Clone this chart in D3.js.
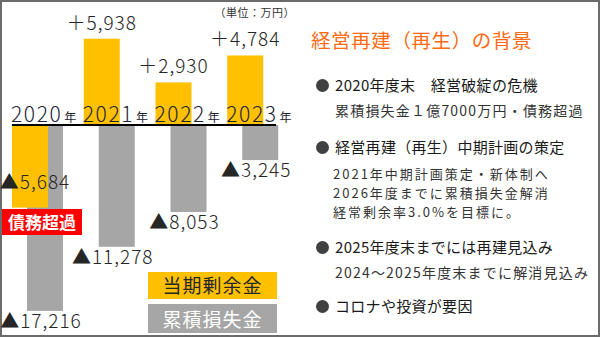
<!DOCTYPE html>
<html>
<head>
<meta charset="utf-8">
<script src="https://cdn.jsdelivr.net/npm/d3@7"></script>
<style>
  html, body { margin: 0; padding: 0; background: #fff; }
  svg { display: block; font-family: "Noto Sans CJK JP", "Noto Sans", sans-serif; }
</style>
</head>
<body>
<svg id="chart" width="600" height="337"></svg>
<script>
// Fiscal years and results (unit: 10,000 yen)
const years = ["2020", "2021", "2022", "2023"];
const surplus = [-5684, 5938, 2930, 4784];        // 当期剰余金
const accumLoss = [-17216, -11278, -8053, -3245]; // 累積損失金

const legendItems = ["当期剰余金", "累積損失金"];
const unitLabel = "（単位：万円）";
const title = "経営再建（再生）の背景";
const notes = [
  { head: "2020年度末　経営破綻の危機", lines: ["累積損失金１億7000万円・債務超過"] },
  { head: "経営再建（再生）中期計画の策定", lines: ["2021年中期計画策定・新体制へ", "2026年度までに累積損失金解消", "経常剰余率3.0%を目標に。"] },
  { head: "2025年度末までには再建見込み", lines: ["2024～2025年度末までに解消見込み"] },
  { head: "コロナや投資が要因", lines: [] }
];

const COLOR_SURPLUS = "#ffc000";
const COLOR_LOSS = "#a6a6a6";
const TEXT_DARK = "#262626";

const svg = d3.select("#chart");

// outer frame
svg.append("rect")
  .attr("x", 1).attr("y", 1).attr("width", 598).attr("height", 335)
  .attr("fill", "#fff").attr("stroke", "#6b6b6b").attr("stroke-width", 2);

const baseY = 125;
const x = d3.scaleBand().domain(years).range([12, 299]).paddingInner(0).paddingOuter(0);
const barW = 36;
const lossOffset = 15;

// separate vertical scales for yearly surplus and accumulated loss
const ySurplus = d3.scaleLinear().domain([0, 6000]).range([baseY, baseY - 87.2]);
const yLoss = d3.scaleLinear().domain([0, -18000]).range([baseY, baseY + 194.4]);

const fmt = d3.format(",");

// accumulated loss bars (behind)
svg.append("g").selectAll("rect")
  .data(years)
  .join("rect")
  .attr("x", d => x(d) + lossOffset)
  .attr("width", barW)
  .attr("y", (d, i) => Math.min(yLoss(0), yLoss(accumLoss[i])))
  .attr("height", (d, i) => Math.abs(yLoss(accumLoss[i]) - yLoss(0)))
  .attr("fill", COLOR_LOSS);

// surplus bars (front)
svg.append("g").selectAll("rect")
  .data(years)
  .join("rect")
  .attr("x", d => x(d))
  .attr("width", barW)
  .attr("y", (d, i) => Math.min(ySurplus(0), ySurplus(surplus[i])))
  .attr("height", (d, i) => Math.abs(ySurplus(surplus[i]) - ySurplus(0)))
  .attr("fill", COLOR_SURPLUS);

// year labels sitting on the zero line
const yearLabels = svg.append("g").selectAll("text")
  .data(years)
  .join("text")
  .attr("x", d => x(d) - 1)
  .attr("y", baseY - 3)
  .attr("fill", "#1c2433");
yearLabels.append("tspan")
  .attr("font-size", 21).attr("font-weight", 300).attr("letter-spacing", 1.6)
  .text(d => d);
yearLabels.append("tspan")
  .attr("font-size", 12).attr("dx", 2)
  .text("年");

// zero line
svg.append("line")
  .attr("x1", 12).attr("x2", 276)
  .attr("y1", baseY).attr("y2", baseY)
  .attr("stroke", "#000").attr("stroke-width", 2);

// surplus value labels
svg.append("g").selectAll("text")
  .data(years)
  .join("text")
  .attr("text-anchor", "middle")
  .attr("font-size", 19)
  .attr("font-weight", 300)
  .attr("letter-spacing", 1)
  .attr("fill", TEXT_DARK)
  .attr("x", (d, i) => x(d) + barW / 2 + (surplus[i] < 0 ? 5 : 0))
  .attr("y", (d, i) => surplus[i] >= 0 ? ySurplus(surplus[i]) - 9 : ySurplus(surplus[i]) - 19)
  .text((d, i) => (surplus[i] >= 0 ? "＋" : "▲") + fmt(Math.abs(surplus[i])));

// accumulated loss value labels
svg.append("g").selectAll("text")
  .data(years)
  .join("text")
  .attr("text-anchor", "middle")
  .attr("font-size", 19)
  .attr("font-weight", 300)
  .attr("letter-spacing", 1)
  .attr("fill", TEXT_DARK)
  .attr("x", d => x(d) + lossOffset + barW / 2 - 4)
  .attr("y", (d, i) => yLoss(accumLoss[i]) + 17)
  .text((d, i) => "▲" + fmt(Math.abs(accumLoss[i])));

// insolvency badge
svg.append("rect")
  .attr("x", 2).attr("y", 209).attr("width", 80).attr("height", 26)
  .attr("fill", "#ff0000");
svg.append("text")
  .attr("x", 42).attr("y", 228.5)
  .attr("text-anchor", "middle")
  .attr("font-size", 17).attr("font-weight", 700)
  .attr("fill", "#fff")
  .text("債務超過");

// unit note
svg.append("text")
  .attr("x", 295).attr("y", 17)
  .attr("text-anchor", "end")
  .attr("font-size", 11)
  .attr("letter-spacing", 0.5)
  .attr("fill", "#333")
  .text(unitLabel);

// legend boxes
const legend = svg.append("g").selectAll("g")
  .data(legendItems)
  .join("g")
  .attr("transform", (d, i) => `translate(148, ${i === 0 ? 272 : 304})`);
legend.append("rect")
  .attr("width", 129)
  .attr("height", (d, i) => i === 0 ? 27 : 29)
  .attr("fill", (d, i) => i === 0 ? COLOR_SURPLUS : COLOR_LOSS);
legend.append("text")
  .attr("x", 64.5)
  .attr("y", (d, i) => i === 0 ? 21 : 22.5)
  .attr("text-anchor", "middle")
  .attr("font-size", 19)
  .attr("letter-spacing", 1)
  .attr("fill", (d, i) => i === 0 ? TEXT_DARK : "#fff")
  .text(d => d);

// right-hand notes
svg.append("text")
  .attr("x", 311).attr("y", 48)
  .attr("font-size", 19.5)
  .attr("letter-spacing", 0.6)
  .attr("fill", "#ff6a13")
  .text(title);

const headY = [91, 153, 253, 312];
const subY = [116, 179, 278, null];
const subLineGap = 18.8;
notes.forEach((n, i) => {
  svg.append("circle")
    .attr("cx", 322.5).attr("cy", headY[i] - 5.5)
    .attr("r", 6.5).attr("fill", "#404040");
  svg.append("text")
    .attr("x", 335).attr("y", headY[i])
    .attr("font-size", 15).attr("letter-spacing", 0.3)
    .attr("fill", "#1a1a1a")
    .text(n.head);
  if (n.lines.length) {
    // detail lines; the stacked block uses a slightly tighter face
    const lx = i === 1 ? 333 : 335;
    const multi = n.lines.length > 1;
    const block = svg.append("text")
      .attr("x", lx).attr("y", subY[i])
      .attr("font-size", multi ? 13 : 14)
      .attr("letter-spacing", multi ? 2 : 1.2)
      .attr("fill", "#333");
    block.selectAll("tspan")
      .data(n.lines)
      .join("tspan")
      .attr("x", lx)
      .attr("y", (t, j) => subY[i] + j * subLineGap)
      .text(t => t);
  }
});
</script>
</body>
</html>
